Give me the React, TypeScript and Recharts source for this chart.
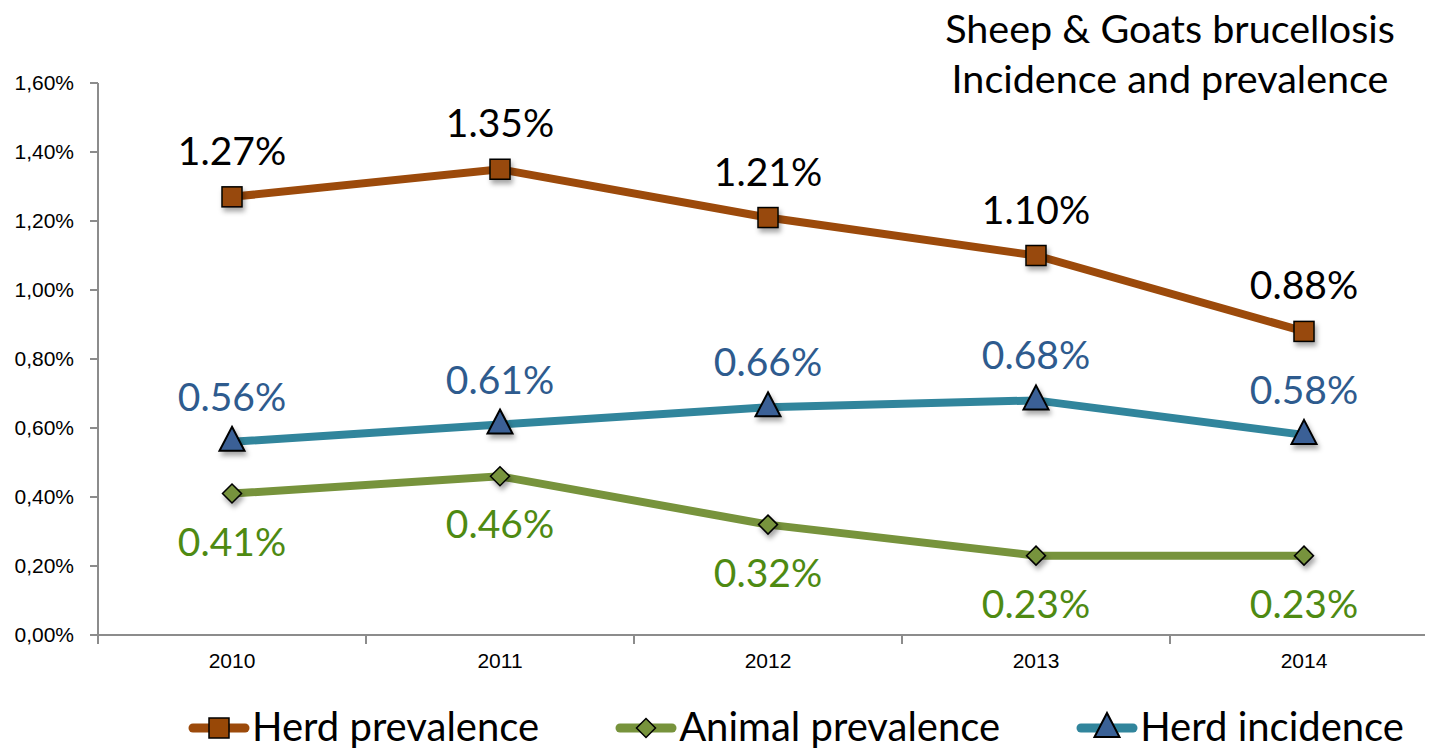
import React from 'react';
import { LineChart, Line, XAxis, YAxis, Legend, LabelList } from 'recharts';

const years = ['2010', '2011', '2012', '2013', '2014'];
const herdPrevalence = [1.27, 1.35, 1.21, 1.1, 0.88];
const animalPrevalence = [0.41, 0.46, 0.32, 0.23, 0.23];
const herdIncidence = [0.56, 0.61, 0.66, 0.68, 0.58];
const yTicks = [0, 0.2, 0.4, 0.6, 0.8, 1.0, 1.2, 1.4, 1.6];
const titleLines = ['Sheep & Goats brucellosis', 'Incidence and prevalence'];

const data = years.map((y, i) => ({
  year: y,
  herdPrev: herdPrevalence[i],
  animalPrev: animalPrevalence[i],
  herdInc: herdIncidence[i],
}));

const C = {
  herdLine: '#9C4A0B',
  herdFill: '#984807',
  animalLine: '#77933C',
  animalFill: '#77933C',
  incLine: '#31859C',
  incFill: '#3A6196',
  incLabel: '#2E5B8E',
  animalLabel: '#4E8A12',
  axis: '#8C8C8C',
};

const LABEL_FONT = 'Lato, "Noto Sans", sans-serif';
const TICK_FONT = '"Liberation Sans", Arial, sans-serif';

const Shadow = ({ id }: { id: string }) => (
  <defs>
    <filter id={id} x="-50%" y="-50%" width="200%" height="200%">
      <feDropShadow dx="2" dy="4" stdDeviation="2.5" floodColor="#000" floodOpacity="0.35" />
    </filter>
  </defs>
);

const SquareDot = (props: any) => {
  const { cx, cy, index } = props;
  if (cx == null || cy == null) return null;
  return (
    <g key={`sq-${index}`}>
      <Shadow id="shSq" />
      <rect x={cx - 10} y={cy - 10} width={20} height={20} fill={C.herdFill} stroke="#000" strokeWidth={1.5} filter="url(#shSq)" />
    </g>
  );
};

const DiamondDot = (props: any) => {
  const { cx, cy, index } = props;
  if (cx == null || cy == null) return null;
  const r = 9.5;
  return (
    <g key={`di-${index}`}>
      <Shadow id="shDi" />
      <path d={`M${cx},${cy - r} L${cx + r},${cy} L${cx},${cy + r} L${cx - r},${cy} Z`} fill={C.animalFill} stroke="#000" strokeWidth={1.5} filter="url(#shDi)" />
    </g>
  );
};

const TriangleDot = (props: any) => {
  const { cx, cy, index } = props;
  if (cx == null || cy == null) return null;
  return (
    <g key={`tr-${index}`}>
      <Shadow id="shTr" />
      <path d={`M${cx},${cy - 15} L${cx + 12.5},${cy + 9} L${cx - 12.5},${cy + 9} Z`} fill={C.incFill} stroke="#000" strokeWidth={2} strokeLinejoin="miter" filter="url(#shTr)" />
    </g>
  );
};

const makeLabel = (color: string, dy: number) => (props: any) => {
  const { x, y, value, index } = props;
  return (
    <text key={`l-${index}`} x={x} y={y + dy} textAnchor="middle" dominantBaseline="central" fill={color} fontFamily={LABEL_FONT} fontSize={39}>
      {`${Number(value).toFixed(2)}%`}
    </text>
  );
};

const XTick = (props: any) => {
  const { x, y, payload } = props;
  const off = payload && payload.offset ? payload.offset : 134;
  const axisY = y - 8;
  return (
    <g>
      <line x1={x - off} x2={x - off} y1={axisY} y2={axisY + 9} stroke={C.axis} strokeWidth={2} />
      <text x={x} y={axisY + 25} textAnchor="middle" dominantBaseline="central" fontFamily={TICK_FONT} fontSize={21} fill="#000">
        {payload.value}
      </text>
    </g>
  );
};

const LegendIcon = ({ kind, line, fill }: { kind: string; line: string; fill: string }) => (
  <svg width={62} height={40} style={{ display: 'block' }}>
    <line x1={5} x2={57} y1={22} y2={22} stroke={line} strokeWidth={9} strokeLinecap="round" />
    {kind === 'square' && <rect x={21} y={12} width={20} height={20} fill={fill} stroke="#000" strokeWidth={1.5} />}
    {kind === 'diamond' && <path d="M31,12.5 L40.5,22 L31,31.5 L21.5,22 Z" fill={fill} stroke="#000" strokeWidth={1.5} />}
    {kind === 'triangle' && <path d="M31,7 L43.5,31 L18.5,31 Z" fill={fill} stroke="#000" strokeWidth={2} />}
  </svg>
);

const legendItems = [
  { name: 'Herd prevalence', kind: 'square', line: C.herdLine, fill: C.herdFill },
  { name: 'Animal prevalence', kind: 'diamond', line: C.animalLine, fill: C.animalFill },
  { name: 'Herd incidence', kind: 'triangle', line: C.incLine, fill: C.incFill },
];

const LegendContent = () => (
  <div style={{ display: 'flex', alignItems: 'center', paddingLeft: 180, fontFamily: LABEL_FONT, fontSize: 40, color: '#000' }}>
    {legendItems.map((it, i) => (
      <div key={it.name} style={{ display: 'flex', alignItems: 'center', marginRight: i < 2 ? 76 : 0 }}>
        <LegendIcon kind={it.kind} line={it.line} fill={it.fill} />
        <span style={{ marginLeft: 2, lineHeight: '44px', whiteSpace: 'nowrap' }}>{it.name}</span>
      </div>
    ))}
  </div>
);

export default function App() {
  return (
    <div style={{ position: 'relative', width: 1425, height: 743, overflow: 'hidden', background: '#fff' }}>
      <div style={{ position: 'absolute', left: 920, top: -5, width: 484, textAlign: 'center', fontFamily: LABEL_FONT, fontSize: 39.5, lineHeight: '50px', color: '#000' }}>
        {titleLines.map((t) => (
          <div key={t} style={{ whiteSpace: 'nowrap' }}>{t}</div>
        ))}
      </div>
      <LineChart width={1440} height={743} data={data} margin={{ top: 75, right: 10, left: 2, bottom: 32 }}>
        <XAxis dataKey="year" scale="band" axisLine={{ stroke: C.axis, strokeWidth: 2 }} tickLine={false} tick={<XTick />} height={40} interval={0} />
        <YAxis
          domain={[0, 1.6]}
          ticks={yTicks}
          width={88}
          axisLine={{ stroke: C.axis, strokeWidth: 2 }}
          tickLine={{ stroke: C.axis, strokeWidth: 2 }}
          tickSize={8}
          tickMargin={16}
          tickFormatter={(v: number) => `${v.toFixed(2).replace('.', ',')}%`}
          tick={{ fontFamily: TICK_FONT, fontSize: 21, fill: '#000' }}
          interval={0}
        />
        <Legend content={<LegendContent />} wrapperStyle={{ position: 'absolute', left: 0, top: 696, width: 1440 }} />
        <Line dataKey="herdPrev" name="Herd prevalence" stroke={C.herdLine} strokeWidth={8} dot={<SquareDot />} isAnimationActive={false}>
          <LabelList dataKey="herdPrev" content={makeLabel('#000', -47)} />
        </Line>
        <Line dataKey="animalPrev" name="Animal prevalence" stroke={C.animalLine} strokeWidth={8} dot={<DiamondDot />} isAnimationActive={false}>
          <LabelList dataKey="animalPrev" content={makeLabel(C.animalLabel, 47)} />
        </Line>
        <Line dataKey="herdInc" name="Herd incidence" stroke={C.incLine} strokeWidth={8} dot={<TriangleDot />} isAnimationActive={false}>
          <LabelList dataKey="herdInc" content={makeLabel(C.incLabel, -46)} />
        </Line>
      </LineChart>
    </div>
  );
}
